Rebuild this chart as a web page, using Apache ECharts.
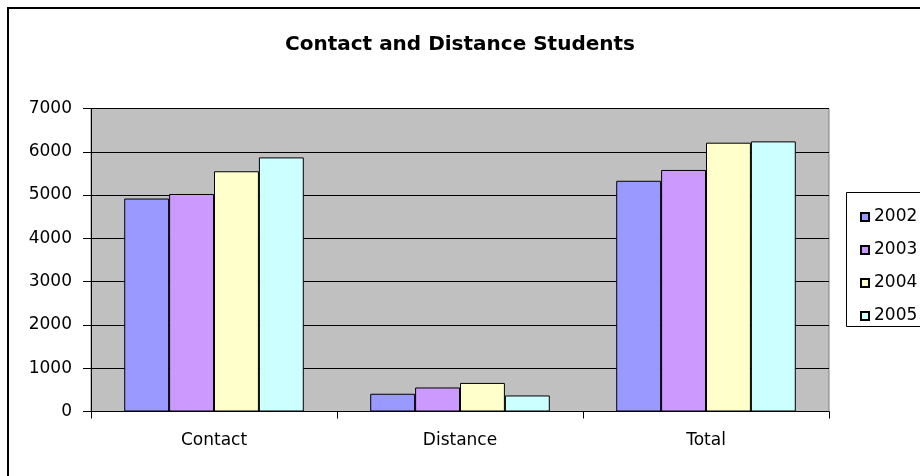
<!DOCTYPE html>
<html>
<head>
<meta charset="utf-8">
<script src="https://cdn.jsdelivr.net/npm/echarts@6/dist/echarts.min.js"></script>
<style>
  html, body { margin: 0; padding: 0; background: #fff; }
  #chart { width: 920px; height: 476px; }
</style>
</head>
<body>
<div id="chart"></div>
<script>
// Student counts by study mode and year
const categories = ['Contact', 'Distance', 'Total'];
const years = ['2002', '2003', '2004', '2005'];
const values2002 = [4920, 410, 5330];
const values2003 = [5025, 555, 5580];
const values2004 = [5550, 660, 6210];
const values2005 = [5870, 370, 6240];
const yTicks = [0, 1000, 2000, 3000, 4000, 5000, 6000, 7000];

const seriesValues = [values2002, values2003, values2004, values2005];
const colors = ['#9999FF', '#CC99FF', '#FFFFCC', '#CCFFFF'];
const font = '"DejaVu Sans", "Liberation Sans", Arial, sans-serif';

const chart = echarts.init(document.getElementById('chart'), null, { renderer: 'canvas' });

chart.setOption({
  animation: false,
  backgroundColor: '#fff',
  title: {
    text: 'Contact and Distance Students',
    left: 'center',
    top: 30,
    textStyle: { fontFamily: font, fontSize: 20, fontWeight: 'bold', color: '#000' }
  },
  graphic: [
    {
      type: 'rect',
      shape: { x: 8, y: 8, width: 940, height: 500 },
      style: { fill: 'none', stroke: '#000', lineWidth: 2 },
      z: 100
    },
    {
      type: 'rect',
      shape: { x: 846.5, y: 192.5, width: 90, height: 134 },
      style: { fill: '#fff', stroke: '#000', lineWidth: 1 },
      z: 0
    }
  ],
  legend: {
    orient: 'vertical',
    left: 855,
    top: 203.5,
    itemWidth: 8,
    itemHeight: 8,
    itemGap: 16,
    icon: 'rect',
    data: years,
    textStyle: { fontFamily: font, fontSize: 17, color: '#000' },
    z: 10
  },
  grid: {
    left: 91,
    right: 91,
    top: 108.5,
    bottom: 64.5,
    show: true,
    backgroundColor: '#C0C0C0',
    borderColor: '#808080',
    borderWidth: 1
  },
  xAxis: {
    type: 'category',
    data: categories,
    axisLine: { lineStyle: { color: '#000', width: 1 } },
    axisTick: { show: true, length: 7, lineStyle: { color: '#000' } },
    axisLabel: { fontFamily: font, fontSize: 17, color: '#000', margin: 21 }
  },
  yAxis: {
    type: 'value',
    min: yTicks[0],
    max: yTicks[yTicks.length - 1],
    interval: 1000,
    axisLine: { show: true, lineStyle: { color: '#000', width: 1 } },
    axisTick: { show: true, length: 8, lineStyle: { color: '#000' } },
    axisLabel: {
      fontFamily: font, fontSize: 17, color: '#000', margin: 19,
      formatter: (v) => String(v)
    },
    splitLine: { show: true, lineStyle: { color: '#000', width: 1 } }
  },
  series: years.map((y, i) => ({
    name: y,
    type: 'bar',
    data: seriesValues[i],
    barGap: '0%',
    barCategoryGap: '27%',
    itemStyle: { color: colors[i], borderColor: '#000', borderWidth: 1 }
  }))
});
</script>
</body>
</html>
